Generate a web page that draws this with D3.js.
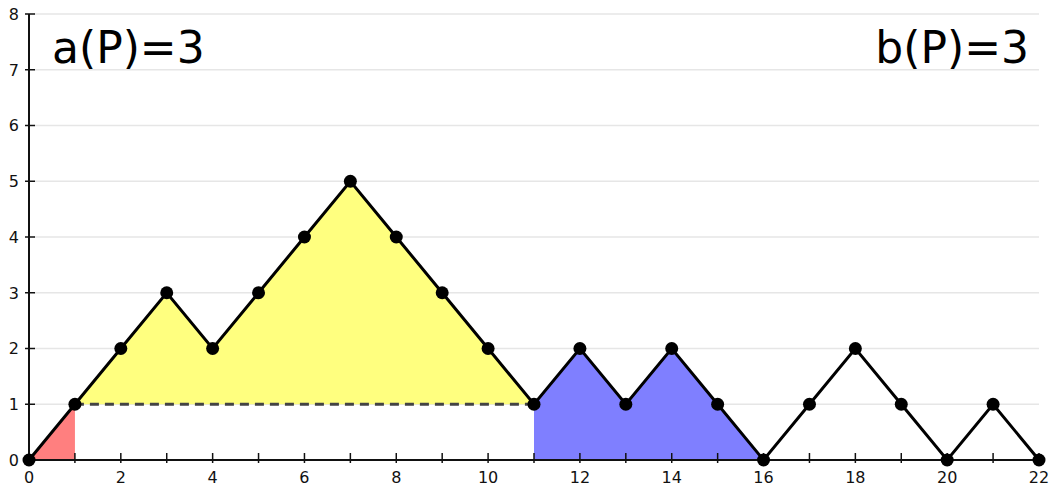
<!DOCTYPE html>
<html>
<head>
<meta charset="utf-8">
<script src="https://cdn.jsdelivr.net/npm/d3@7"></script>
<style>
  html, body { margin: 0; padding: 0; background: #fff; }
  svg { display: block; font-family: "DejaVu Sans", Verdana, sans-serif; }
</style>
</head>
<body>
<svg id="chart" width="1055" height="490"></svg>
<script>
// Lattice path heights at each step 0..22
const steps = d3.range(0, 23);
const heights = [0, 1, 2, 3, 2, 3, 4, 5, 4, 3, 2, 1, 2, 1, 2, 1, 0, 1, 2, 1, 0, 1, 0];

// Shaded regions: [start step, end step]
const redRegion = [0, 1];
const yellowRegion = [1, 11];
const blueRegion = [11, 16];

const xTicks = d3.range(0, 23);
const xLabels = d3.range(0, 23, 2);
const yTicks = d3.range(0, 9);

const leftLabel = "a(P)=3";
const rightLabel = "b(P)=3";

const svg = d3.select("#chart");
const x = d3.scaleLinear().domain([0, 22]).range([29, 1039]);
const y = d3.scaleLinear().domain([0, 8]).range([460, 14]);

const pts = steps.map((s, i) => ({ s, h: heights[i] }));
const line = d3.line().x(d => x(d.s)).y(d => y(d.h));

// horizontal grid
svg.append("g").selectAll("line").data(yTicks.slice(1)).join("line")
  .attr("x1", x(0) + 5).attr("x2", x(22))
  .attr("y1", d => y(d)).attr("y2", d => y(d))
  .attr("stroke", "#e6e6e6").attr("stroke-width", 1.5);

// red: triangle under first step
const redPts = pts.slice(redRegion[0], redRegion[1] + 1);
svg.append("path")
  .attr("d", line([...redPts, { s: redRegion[1], h: 0 }]) + "Z")
  .attr("fill", "#ff7f7f");

// yellow: path above level of its start
const yl = pts.slice(yellowRegion[0], yellowRegion[1] + 1);
svg.append("path")
  .attr("d", line(yl) + "Z")
  .attr("fill", "#ffff7f");

// blue: from step 11 down to the axis
const bl = pts.slice(blueRegion[0], blueRegion[1] + 1);
svg.append("path")
  .attr("d", line([...bl, { s: blueRegion[0], h: 0 }]) + "Z")
  .attr("fill", "#7f7fff");

// dashed level line
svg.append("line")
  .attr("x1", x(yellowRegion[0])).attr("x2", x(yellowRegion[1]))
  .attr("y1", y(heights[yellowRegion[0]])).attr("y2", y(heights[yellowRegion[0]]))
  .attr("stroke", "#444").attr("stroke-width", 3).attr("stroke-dasharray", "9,6");

// axes
const xAxis = svg.append("g").attr("transform", `translate(0,${y(0)})`);
xAxis.append("line").attr("x1", x(0)).attr("x2", x(22)).attr("stroke", "#111").attr("stroke-width", 2);
xAxis.selectAll(".t").data(xTicks).join("line").attr("class", "t")
  .attr("x1", d => x(d)).attr("x2", d => x(d)).attr("y1", -7).attr("y2", 3)
  .attr("stroke", "#111").attr("stroke-width", 1.5);
xAxis.selectAll("text").data(xLabels).join("text")
  .attr("x", d => x(d)).attr("y", 23).attr("text-anchor", "middle")
  .attr("font-size", 16).attr("fill", "#111").text(d => d);

const yAxis = svg.append("g").attr("transform", `translate(${x(0)},0)`);
yAxis.append("line").attr("y1", y(0)).attr("y2", y(8)).attr("stroke", "#111").attr("stroke-width", 2);
yAxis.selectAll(".t").data(yTicks).join("line").attr("class", "t")
  .attr("y1", d => y(d)).attr("y2", d => y(d)).attr("x1", -4).attr("x2", 6)
  .attr("stroke", "#111").attr("stroke-width", 1.5);
yAxis.selectAll("text").data(yTicks).join("text")
  .attr("x", -10).attr("y", d => y(d)).attr("dy", "0.36em").attr("text-anchor", "end")
  .attr("font-size", 16).attr("fill", "#111").text(d => d);

// lattice path
svg.append("path")
  .attr("d", line(pts))
  .attr("fill", "none").attr("stroke", "#000").attr("stroke-width", 3)
  .attr("stroke-linejoin", "miter");

svg.append("g").selectAll("circle").data(pts).join("circle")
  .attr("cx", d => x(d.s)).attr("cy", d => y(d.h)).attr("r", 6.5).attr("fill", "#000");

// statistics labels
svg.append("text").attr("x", 52).attr("y", 63).attr("font-size", 44)
  .attr("fill", "#000").text(leftLabel);
svg.append("text").attr("x", 1029).attr("y", 63).attr("font-size", 44)
  .attr("text-anchor", "end").attr("fill", "#000").text(rightLabel);
</script>
</body>
</html>
